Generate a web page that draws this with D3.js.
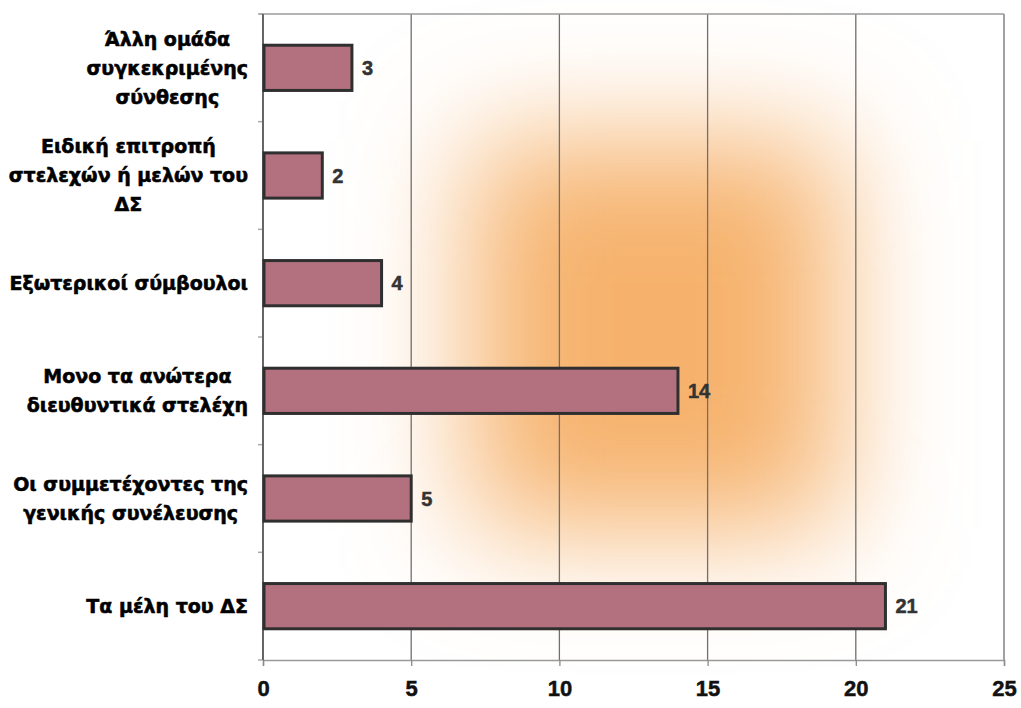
<!DOCTYPE html>
<html>
<head>
<meta charset="utf-8">
<script src="https://cdn.jsdelivr.net/npm/d3@7"></script>
<style>
  html, body { margin: 0; padding: 0; background: #fff; }
  svg { display: block; }
  text { font-family: "Liberation Sans", Arial, sans-serif; font-weight: bold; }
  .cat { font-family: "DejaVu Sans", sans-serif; }
</style>
</head>
<body>
<svg id="chart" width="1021" height="708"></svg>
<script>
// Categories, top to bottom, each split into its printed lines
const categories = [
  "Άλλη ομάδα συγκεκριμένης σύνθεσης",
  "Ειδική επιτροπή στελεχών ή μελών του ΔΣ",
  "Εξωτερικοί σύμβουλοι",
  "Μονο τα ανώτερα διευθυντικά στελέχη",
  "Οι συμμετέχοντες της γενικής συνέλευσης",
  "Τα μέλη του ΔΣ"
];
const categoryLines = [
  ["Άλλη ομάδα", "συγκεκριμένης", "σύνθεσης"],
  ["Ειδική επιτροπή", "στελεχών ή μελών του", "ΔΣ"],
  ["Εξωτερικοί σύμβουλοι"],
  ["Μονο τα ανώτερα", "διευθυντικά στελέχη"],
  ["Οι συμμετέχοντες της", "γενικής συνέλευσης"],
  ["Τα μέλη του ΔΣ"]
];
const values = [3, 2, 4, 14, 5, 21];
const xTicks = [0, 5, 10, 15, 20, 25];

const svg = d3.select("#chart");
const plot = { left: 263, right: 1004, top: 14, bottom: 660 };

const x = d3.scaleLinear().domain([0, 25]).range([plot.left, plot.right]);
const y = d3.scaleBand().domain(categories).range([plot.top, plot.bottom])
  .paddingInner(0.58).paddingOuter(0.29);

// Soft orange glow behind the bars
const defs = svg.append("defs");
defs.append("filter").attr("id", "glow")
  .attr("x", "-60%").attr("y", "-60%").attr("width", "220%").attr("height", "220%")
  .append("feGaussianBlur").attr("stdDeviation", 60);
svg.append("rect")
  .attr("x", x(7.0)).attr("y", 140)
  .attr("width", x(19.4) - x(7.0)).attr("height", 390)
  .attr("fill", "#f6b26d")
  .attr("filter", "url(#glow)");

// Vertical gridlines
svg.append("g").selectAll("line")
  .data(xTicks.slice(1))
  .join("line")
  .attr("x1", d => x(d)).attr("x2", d => x(d))
  .attr("y1", plot.top).attr("y2", plot.bottom)
  .attr("stroke", "#6f6f6f").attr("stroke-width", 1.3);

// Top border
svg.append("line")
  .attr("x1", plot.left - 4).attr("x2", plot.right)
  .attr("y1", plot.top).attr("y2", plot.top)
  .attr("stroke", "#9a9a9a").attr("stroke-width", 1.5);

// Bottom axis
const xAxis = d3.axisBottom(x).tickValues(xTicks).tickSize(6).tickFormat(d3.format("d"));
const gx = svg.append("g").attr("transform", `translate(0,${plot.bottom})`).call(xAxis);
gx.select(".domain").attr("stroke", "#9a9a9a").attr("stroke-width", 1.5);
gx.selectAll(".tick line").attr("stroke", "#8a8a8a").attr("stroke-width", 1.3);
gx.selectAll(".tick text")
  .attr("y", 20).attr("dy", "0.71em")
  .attr("fill", "#111").attr("stroke", "#111").attr("stroke-width", 0.5)
  .style("font-size", "22px")
  .style("font-family", "'Liberation Sans', Arial, sans-serif").style("font-weight", "bold");

// Left axis with category boundary ticks
const bounds = d3.range(categories.length + 1).map(i => plot.top + i * y.step());
svg.append("g").selectAll("line")
  .data(bounds)
  .join("line")
  .attr("x1", plot.left - 5).attr("x2", plot.left)
  .attr("y1", d => d).attr("y2", d => d)
  .attr("stroke", "#aaa").attr("stroke-width", 1.5);
svg.append("line")
  .attr("x1", plot.left).attr("x2", plot.left)
  .attr("y1", plot.top).attr("y2", plot.bottom)
  .attr("stroke", "#666").attr("stroke-width", 2);

// Bars
svg.append("g").selectAll("rect")
  .data(values)
  .join("rect")
  .attr("x", x(0) + 1)
  .attr("y", (d, i) => y(categories[i]))
  .attr("width", d => x(d) - x(0) - 1)
  .attr("height", y.bandwidth())
  .attr("fill", "#b3717f")
  .attr("stroke", "#2f2f2f").attr("stroke-width", 3);

// Value labels
svg.append("g").selectAll("text")
  .data(values)
  .join("text")
  .attr("x", d => x(d) + 10)
  .attr("y", (d, i) => y(categories[i]) + y.bandwidth() / 2)
  .attr("dy", "0.36em")
  .attr("fill", "#333").attr("stroke", "#333").attr("stroke-width", 0.5)
  .style("font-size", "20px")
  .text(d => d);

// Category labels, centred lines in a block ending near the axis
const lineH = 29;
categoryLines.forEach((lines, i) => {
  const cy = y(categories[i]) + y.bandwidth() / 2;
  const t = svg.append("text")
    .attr("class", "cat")
    .attr("fill", "#000").attr("stroke", "#000").attr("stroke-width", 0.55)
    .style("font-size", "19px")
    .attr("text-anchor", "middle");
  const spans = t.selectAll("tspan").data(lines).join("tspan")
    .text(d => d);
  const widths = [];
  spans.each(function() { widths.push(this.getComputedTextLength()); });
  const blockW = d3.max(widths);
  const cx = 248 - blockW / 2;
  spans.attr("x", cx)
    .attr("y", (d, j) => cy + (j - (lines.length - 1) / 2) * lineH)
    .attr("dy", "0.36em");
});
</script>
</body>
</html>
